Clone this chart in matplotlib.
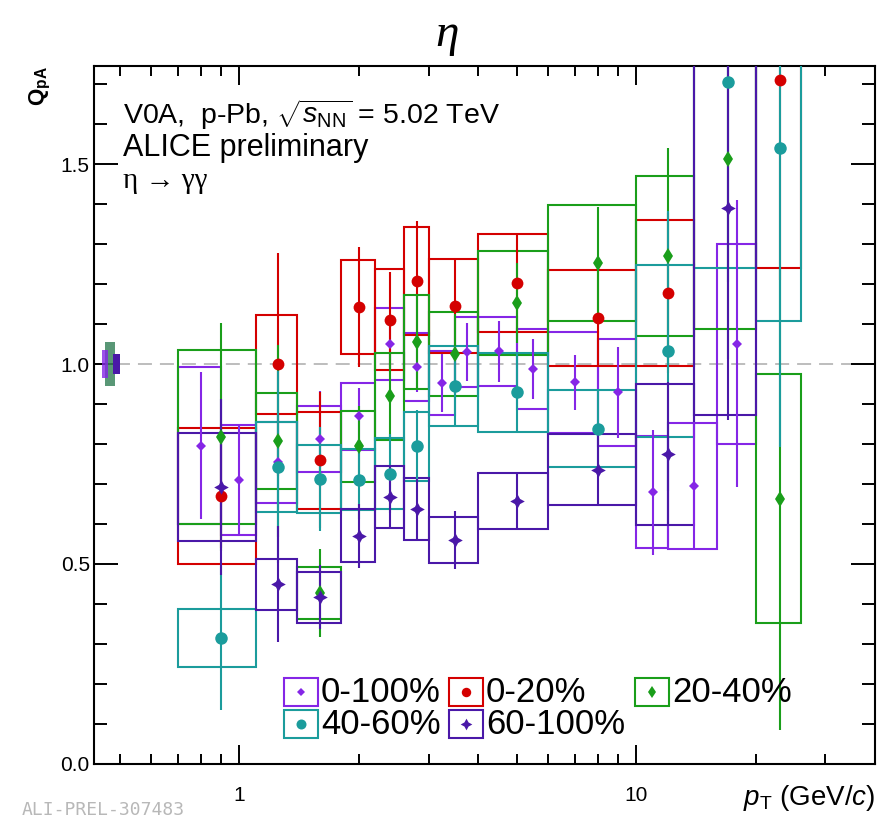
import numpy as np
import matplotlib
matplotlib.use("Agg")
import matplotlib.pyplot as plt
from matplotlib.patches import Rectangle
from matplotlib.ticker import FixedLocator, FixedFormatter, LogLocator, NullFormatter, MultipleLocator

plt.rcParams['font.family'] = ['Liberation Sans', 'DejaVu Sans']
plt.rcParams['mathtext.fontset'] = 'custom'
plt.rcParams['mathtext.rm'] = 'Liberation Sans'
plt.rcParams['mathtext.it'] = 'Liberation Sans:italic'
plt.rcParams['mathtext.bf'] = 'Liberation Sans:bold'

# ---------------- data ----------------
# centrality classes share a common pT binning
cent_lo = [0.7, 1.1, 1.4, 1.8, 2.2, 2.6, 3.0, 4.0, 6.0, 10.0, 14.0, 20.0]
cent_hi = [1.1, 1.4, 1.8, 2.2, 2.6, 3.0, 4.0, 6.0, 10.0, 14.0, 20.0, 26.0]
cent_pt = [0.9, 1.25, 1.6, 2.0, 2.4, 2.8, 3.5, 5.0, 8.0, 12.0, 17.0, 23.0]

# 0-100% (minimum bias) uses a finer binning
mb_lo = [0.7, 0.9, 1.1, 1.4, 1.8, 2.2, 2.6, 3.0, 3.5, 4.0, 5.0, 6.0, 8.0, 10.0, 12.0, 16.0]
mb_hi = [0.9, 1.1, 1.4, 1.8, 2.2, 2.6, 3.0, 3.5, 4.0, 5.0, 6.0, 8.0, 10.0, 12.0, 16.0, 20.0]
mb_pt = [0.8, 1.0, 1.25, 1.6, 2.0, 2.4, 2.8, 3.25, 3.75, 4.5, 5.5, 7.0, 9.0, 11.0, 14.0, 18.0]
mb_val = [0.796, 0.710, 0.754, 0.812, 0.869, 1.051, 0.992, 0.953, 1.030, 1.032, 0.988, 0.954, 0.929, 0.679, 0.695, 1.051]
mb_stat = [0.185, 0.136, 0.12, 0.12, 0.07, 0.07, 0.063, 0.073, 0.073, 0.077, 0.075, 0.069, 0.114, 0.157, 0.16, 0.36]
mb_sys = [0.197, 0.137, 0.102, 0.083, 0.083, 0.09, 0.085, 0.08, 0.088, 0.086, 0.1, 0.127, 0.133, 0.14, 0.157, 0.25]

c020_val = [0.670, 0.999, 0.759, 1.142, 1.111, 1.209, 1.145, 1.203, 1.116, 1.178, np.nan, 1.711]
c020_stat = [0.13, 0.28, 0.17, 0.15, 0.12, 0.15, 0.12, 0.12, 0.12, 0.2, np.nan, 0.5]
c020_sys = [0.17, 0.125, 0.122, 0.118, 0.127, 0.135, 0.118, 0.122, 0.12, 0.183, np.nan, 0.47]

c2040_val = [0.818, 0.807, 0.427, 0.794, 0.919, 1.055, 1.026, 1.153, 1.254, 1.270, 1.513, 0.663]
c2040_stat = [0.285, 0.24, 0.11, 0.1, 0.11, 0.12, 0.1, 0.1, 0.14, 0.27, 0.5, 0.58]
c2040_sys = [0.218, 0.12, 0.066, 0.088, 0.108, 0.118, 0.105, 0.13, 0.145, 0.2, 0.425, 0.312]

c4060_val = [0.314, 0.742, 0.712, 0.711, 0.726, 0.794, 0.944, 0.929, 0.838, 1.032, 1.706, 1.542]
c4060_stat = [0.18, 0.24, 0.13, 0.1, 0.1, 0.09, 0.1, 0.1, 0.1, 0.35, 0.5, 0.75]
c4060_sys = [0.072, 0.113, 0.086, 0.076, 0.09, 0.087, 0.1, 0.098, 0.096, 0.215, 0.465, 0.435]

c60100_val = [0.693, 0.449, 0.416, 0.570, 0.667, 0.637, 0.560, 0.658, 0.736, 0.774, 1.390, np.nan]
c60100_stat = [0.22, 0.145, 0.08, 0.08, 0.08, 0.075, 0.072, 0.07, 0.09, 0.18, 0.53, np.nan]
c60100_sys = [0.135, 0.064, 0.064, 0.066, 0.077, 0.077, 0.058, 0.07, 0.09, 0.177, 0.517, np.nan]

# normalisation uncertainties, drawn at unity on the left
norm_unc = {'0-100%': 0.035, '0-20%': 0.055, '20-40%': 0.055, '40-60%': 0.055, '60-100%': 0.026}

labels = ['0-100%', '0-20%', '20-40%', '40-60%', '60-100%']
colors = {'0-100%': '#8526e6', '0-20%': '#d40000', '20-40%': '#1a9e1a',
          '40-60%': '#1b9c9c', '60-100%': '#4a18a8'}
markers = {'0-100%': ('D', 4.8), '0-20%': ('o', 8.5), '20-40%': ('d', 8),
           '40-60%': ('o', 9), '60-100%': ((4, 1, 0), 10.5)}

series = {
    '0-100%': (mb_lo, mb_hi, mb_pt, mb_val, mb_stat, mb_sys),
    '0-20%': (cent_lo, cent_hi, cent_pt, c020_val, c020_stat, c020_sys),
    '20-40%': (cent_lo, cent_hi, cent_pt, c2040_val, c2040_stat, c2040_sys),
    '40-60%': (cent_lo, cent_hi, cent_pt, c4060_val, c4060_stat, c4060_sys),
    '60-100%': (cent_lo, cent_hi, cent_pt, c60100_val, c60100_stat, c60100_sys),
}

# ---------------- figure ----------------
W, H = 882, 822
fig = plt.figure(figsize=(W / 100, H / 100), dpi=100)
ax = fig.add_axes([94 / W, 1 - 763.5 / H, 781 / W, 697 / H])
ax.set_xscale('log')
ax.set_xlim(0.43, 40.0)
ax.set_ylim(0.0, 1.745)

ax.axhline(1.0, color='#bdbdbd', lw=1.4, dashes=(7.2, 4.1), zorder=1)

lw = 1.5
for z, lab in enumerate(labels):
    lo, hi, pt, val, stat, sys = series[lab]
    col = colors[lab]
    for l, h, v, s in zip(lo, hi, val, sys):
        if np.isnan(v):
            continue
        ax.add_patch(Rectangle((l, v - s), h - l, 2 * s, fill=False,
                               edgecolor=col, lw=lw, zorder=2 + z))
    m, ms = markers[lab]
    ax.errorbar(pt, val, yerr=stat, fmt='none', ecolor=col, elinewidth=lw,
                capsize=0, zorder=7 + z)
    ax.plot(pt, val, linestyle='none', marker=m, ms=ms, color=col,
            markeredgewidth=0, zorder=12 + z)

# normalisation boxes near pT ~ 0.45-0.5
for lab, (x0, x1, a) in {'0-20%': (0.459, 0.486, 0.45), '20-40%': (0.459, 0.486, 0.45),
                         '40-60%': (0.459, 0.486, 0.45), '0-100%': (0.450, 0.467, 0.8),
                         '60-100%': (0.481, 0.500, 1.0)}.items():
    u = norm_unc[lab]
    ax.add_patch(Rectangle((x0, 1 - u), x1 - x0, 2 * u, facecolor=colors[lab],
                           edgecolor='none', alpha=a, zorder=3))

# ---------------- axes styling ----------------
ax.xaxis.set_major_locator(FixedLocator([1, 10]))
ax.xaxis.set_major_formatter(FixedFormatter(['1', '10']))
ax.xaxis.set_minor_locator(LogLocator(base=10, subs=np.arange(2, 10)))
ax.xaxis.set_minor_formatter(NullFormatter())
ax.yaxis.set_major_locator(FixedLocator([0.0, 0.5, 1.0, 1.5]))
ax.yaxis.set_major_formatter(FixedFormatter(['0.0', '0.5', '1.0', '1.5']))
ax.yaxis.set_minor_locator(MultipleLocator(0.1))
ax.tick_params(axis='both', which='both', direction='in', top=True, right=True,
               width=1.4, labelsize=15, colors='black')
ax.tick_params(axis='x', which='major', length=14, pad=16)
ax.tick_params(axis='x', which='minor', length=7.5)
ax.tick_params(axis='y', which='major', length=17, pad=3)
ax.tick_params(axis='y', which='minor', length=9.5)
for sp in ax.spines.values():
    sp.set_linewidth(1.5)

# axis titles
ax.text(1.0, -0.06, r'$p_{\mathrm{T}}$ (GeV/$c$)', transform=ax.transAxes,
        ha='right', va='baseline', fontsize=20)
ax.text(-0.068, 1.0, r'$\mathbf{Q}_{\mathbf{pA}}$', transform=ax.transAxes,
        rotation=90, ha='center', va='top', fontsize=16)

fig.text(0.507, 0.958, 'η', ha='center', va='center', fontsize=34,
         family=['Liberation Serif', 'DejaVu Serif'], style='italic')

# header text
tx = 0.0371
ax.text(tx, 0.918, r'V0A,  p-Pb, $\sqrt{s_{\mathrm{NN}}}$ = 5.02 TeV',
        transform=ax.transAxes, fontsize=20.5, va='baseline')
ax.text(tx, 0.8716, 'ALICE preliminary', transform=ax.transAxes, fontsize=22,
        va='baseline')
ax.text(tx, 0.8257, 'η → γγ', transform=ax.transAxes, fontsize=21,
        va='baseline', family=['Liberation Serif', 'DejaVu Serif'])

# legend, laid out in axes fraction
def fx(px):
    return (px - 94) / 781.0

def fy(py):
    return (763.5 - py) / 697.0

leg_pos = {'0-100%': (284, 692), '0-20%': (449, 692), '20-40%': (635, 692),
           '40-60%': (284, 724), '60-100%': (449, 724)}
bw, bh = 34, 28
for lab in labels:
    px, py = leg_pos[lab]
    col = colors[lab]
    ax.add_patch(Rectangle((fx(px), fy(py + bh / 2)), bw / 781.0, bh / 697.0,
                           transform=ax.transAxes, fill=False, edgecolor=col,
                           lw=1.5, zorder=20, clip_on=False))
    m, ms = markers[lab]
    ax.plot([fx(px + bw / 2)], [fy(py)], transform=ax.transAxes, marker=m,
            ms=ms * 0.8, color=col, markeredgewidth=0, zorder=21, clip_on=False)
    ax.text(fx(px + bw + 3), fy(py), lab, transform=ax.transAxes, fontsize=25,
            va='center', ha='left', zorder=21)

fig.text(22 / W, 1 - 810 / H, 'ALI-PREL-307483', fontsize=13, color='#b8b8b8',
         family='DejaVu Sans Mono', va='center')

fig.savefig('out.png', dpi=100)
